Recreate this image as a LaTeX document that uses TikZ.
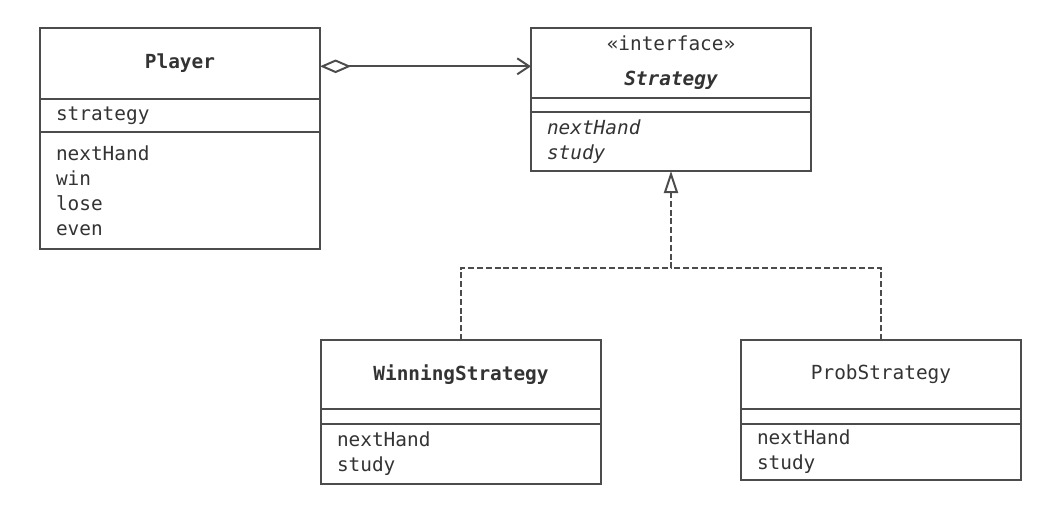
\documentclass[tikz,border=0pt]{standalone}
\usepackage{fontspec}
\setmonofont{DejaVu Sans Mono}
\usepackage{tikz}
\usetikzlibrary{arrows.meta,positioning}

\begin{document}
\begin{tikzpicture}[
  node distance=0pt,
  every node/.style={outer sep=0pt},
  part/.style={draw=black!70, line width=1.5pt, minimum width=7cm, inner xsep=0.4cm,
    text=black!80, font=\ttfamily\fontsize{13.8}{17.8}\selectfont},
  cname/.style={part, align=center},
  cbody/.style={part, align=left, text width=6.2cm},
  link/.style={draw=black!70, line width=1.4pt},
  >=Stealth]
  \useasboundingbox (0,0) rectangle (26.4,-12.95);
  % Player
  \node[cname, anchor=north west, minimum height=1.775cm] (pname) at (1.0,-0.7) {\bfseries Player};
  \node[cbody, below=of pname, minimum height=0.825cm] (pattr) {strategy};
  \node[cbody, below=of pattr, minimum height=2.925cm] (pmeth) {nextHand\\win\\lose\\even};
  % Strategy
  \node[cname, anchor=north west, minimum height=1.75cm] (sname) at (13.275,-0.7)
    {«interface»\\[0.25cm]\bfseries\itshape Strategy};
  \node[cbody, below=of sname, minimum height=0.35cm] (sattr) {};
  \node[cbody, below=of sattr, minimum height=1.475cm] (smeth) {\itshape nextHand\\\itshape study};
  % WinningStrategy
  \node[cname, anchor=north west, minimum height=1.725cm] (wname) at (8.025,-8.5) {\bfseries WinningStrategy};
  \node[cbody, below=of wname, minimum height=0.375cm] (wattr) {};
  \node[cbody, below=of wattr, minimum height=1.5cm] (wmeth) {nextHand\\study};
  % ProbStrategy
  \node[cname, anchor=north west, minimum height=1.725cm] (rname) at (18.525,-8.5) {ProbStrategy};
  \node[cbody, below=of rname, minimum height=0.375cm] (rattr) {};
  \node[cbody, below=of rattr, minimum height=1.4cm] (rmeth) {nextHand\\study};
  \coordinate (junc) at ([yshift=-2.425cm]smeth.south);
  \draw[link, {Diamond[open,length=0.78cm,width=0.34cm]}-{Straight Barb[length=0.3cm,width=0.4cm]}]
    ([yshift=-0.07cm]pname.east) -- ([yshift=-0.07cm]pname.east -| sname.west);
  \draw[link, dash pattern=on 0.15cm off 0.07cm, -{Triangle[open,length=0.55cm,width=0.35cm]}]
    (wname.north) |- (junc) -- (smeth.south);
  \draw[link, dash pattern=on 0.15cm off 0.07cm] (rname.north) |- (junc);
\end{tikzpicture}
\end{document}
